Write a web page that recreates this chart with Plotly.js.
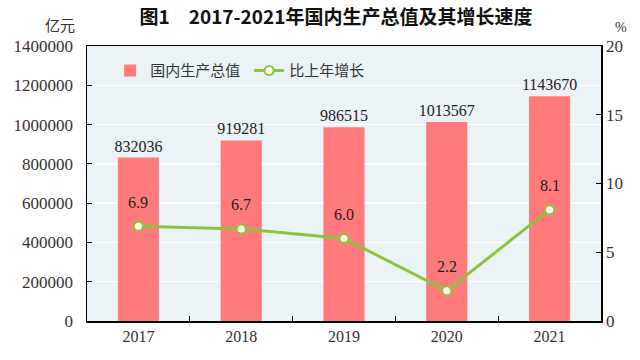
<!DOCTYPE html>
<html>
<head>
<meta charset="utf-8">
<script src="https://cdn.plot.ly/plotly-3.0.1.min.js"></script>
<style>html,body{margin:0;padding:0;background:#fff;}#chart{width:640px;height:360px;}</style>
</head>
<body>
<div id="chart"></div>
<script>
var years = ['2017', '2018', '2019', '2020', '2021'];
var gdp = [832036, 919281, 986515, 1013567, 1143670];
var growth = [6.9, 6.7, 6.0, 2.2, 8.1];
var growthLabels = ['6.9', '6.7', '6.0', '2.2', '8.1'];
var leftTicks = [0, 200000, 400000, 600000, 800000, 1000000, 1200000, 1400000];
var rightTicks = [0, 5, 10, 15, 20];

var serif = 'Times New Roman, Liberation Serif, DejaVu Serif, serif';
var cjk = 'Noto Sans CJK SC, sans-serif';

var traces = [
  {
    type: 'bar', x: years, y: gdp, name: '国内生产总值',
    marker: {color: '#FF7B7B'}, width: 0.4,
    text: gdp.map(String), textposition: 'outside', cliponaxis: false, constraintext: 'none',
    textfont: {family: serif, size: 16, color: '#222'}
  },
  {
    type: 'scatter', mode: 'lines+markers', x: years, y: growth, yaxis: 'y2', name: '比上年增长',
    line: {color: '#8CC43F', width: 3},
    marker: {size: 9, color: '#FFFFF0', line: {color: '#8CC43F', width: 2}}
  }
];

var annotations = years.map(function (yr, i) {
  return {x: i, y: growth[i], xref: 'x', yref: 'y2', text: growthLabels[i], showarrow: false,
    yshift: 24, font: {family: serif, size: 16, color: '#222'}};
});
annotations.push({x: 0, y: 1, xref: 'paper', yref: 'paper', xanchor: 'right', yanchor: 'bottom',
  xshift: -10, yshift: 9, text: '亿元', showarrow: false, font: {family: cjk, size: 15, color: '#333'}});
annotations.push({x: 1, y: 1, xref: 'paper', yref: 'paper', xanchor: 'left', yanchor: 'bottom',
  xshift: 12, yshift: 9, text: '%', showarrow: false, font: {family: serif, size: 14, color: '#333'}});

var layout = {
  width: 640, height: 360,
  margin: {l: 87, r: 39, t: 46, b: 39},
  paper_bgcolor: '#ffffff', plot_bgcolor: '#EBF3F7',
  title: {text: '<b>图1　2017-2021年国内生产总值及其增长速度</b>', x: 0.525, xanchor: 'center', y: 0.952, yanchor: 'middle',
    font: {family: cjk, size: 19, color: '#111'}},
  showlegend: true,
  legend: {orientation: 'h', x: 0.045, y: 0.97, xanchor: 'left', yanchor: 'top', bgcolor: 'rgba(0,0,0,0)',
    font: {family: cjk, size: 15, color: '#333'}, traceorder: 'normal', entrywidth: 94},
  xaxis: {type: 'category', range: [-0.5, 4.5], showline: true, linecolor: '#000', linewidth: 1.5, mirror: true,
    ticks: 'inside', tickson: 'boundaries', ticklen: 5, tickcolor: '#000', showgrid: false,
    tickfont: {family: serif, size: 16, color: '#333'}},
  yaxis: {range: [0, 1400000], tickvals: leftTicks, ticktext: leftTicks.map(String), showline: true, linecolor: '#000', linewidth: 1.5,
    ticks: 'inside', ticklen: 5, tickcolor: '#000', showgrid: true, gridcolor: '#ffffff', gridwidth: 1.5, zeroline: false,
    ticklabelstandoff: 9,
    tickfont: {family: serif, size: 17, color: '#333'}},
  yaxis2: {overlaying: 'y', side: 'right', range: [0, 20], tickvals: rightTicks, showline: true, linecolor: '#000', linewidth: 1.5,
    ticks: 'inside', ticklen: 5, tickcolor: '#000', showgrid: false, zeroline: false,
    tickfont: {family: serif, size: 17, color: '#333'}},
  annotations: annotations
};

Plotly.newPlot('chart', traces, layout, {staticPlot: true});
</script>
</body>
</html>
